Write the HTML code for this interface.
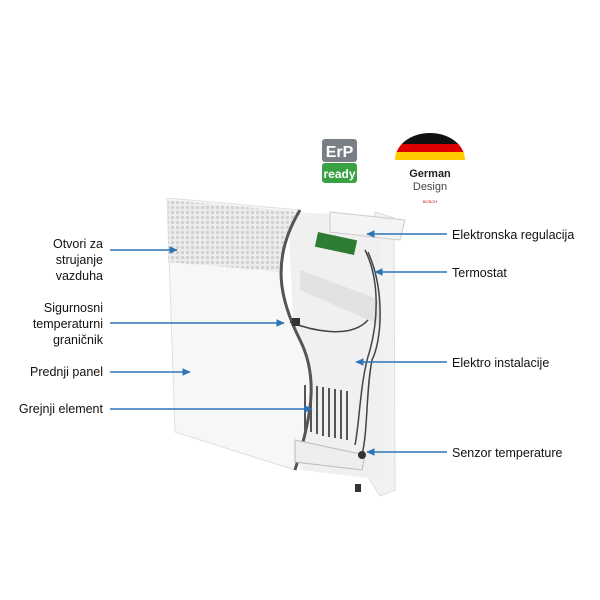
<!DOCTYPE html>
<html><head><meta charset="utf-8"><style>
body{margin:0;background:#fff;}
svg{display:block;font-family:"Liberation Sans",sans-serif;}
</style></head><body>
<svg width="600" height="600" viewBox="0 0 600 600">
<defs>
<pattern id="dots" width="5" height="5" patternUnits="userSpaceOnUse">
<rect width="5" height="5" fill="#ececec"/><circle cx="2.5" cy="2.5" r="1.6" fill="#d0d0d0"/></pattern>
<marker id="ar" markerWidth="6" markerHeight="6" refX="5" refY="3" orient="auto"><path d="M0,0.5 L5.5,3 L0,5.5z" fill="#2e75b6"/></marker>
<clipPath id="dome"><path d="M395,160 A35,27 0 0 1 465,160Z"/></clipPath>
</defs>
<path d="M375,212 L394,218 L395,490 L380,496 L370,480Z" fill="#f2f2f2" stroke="#ddd"/>
<path d="M288,212 L380,216 L385,480 L300,470 Z" fill="#f0f0f0"/>
<path d="M300,270 L380,300 L380,325 L300,290Z" fill="#e2e2e2"/>
<path d="M167,198 L300,210 C270,260 280,300 300,340 C320,380 310,420 295,470 L175,432 Z" fill="#f7f7f7" stroke="#e0e0e0"/>
<path d="M168,200 L300,212 C290,230 282,250 283,272 L168,262Z" fill="url(#dots)"/>
<path d="M300,210 C270,260 280,300 300,340 C320,380 310,420 295,470" fill="none" stroke="#555" stroke-width="3"/>
<g stroke="#555" stroke-width="2">
<path d="M305,385 L305,430 M311,385 L311,432 M317,386 L317,434 M323,387 L323,436 M329,388 L329,437 M335,389 L335,438 M341,390 L341,439 M347,391 L347,440"/>
</g>
<path d="M295,440 L365,455 L362,470 L295,462Z" fill="#eee" stroke="#bbb"/>
<path d="M330,212 L405,220 L400,240 L330,232Z" fill="#f4f4f4" stroke="#ccc"/>
<rect x="318" y="232" width="40" height="15" fill="#2e7d32" transform="rotate(12 318 232)"/>
<g fill="none" stroke="#444" stroke-width="1.5">
<path d="M365,250 C380,280 378,320 370,350 C360,380 360,420 355,445"/>
<path d="M368,252 C385,290 382,340 372,360 C366,390 368,430 362,455"/>
<path d="M290,322 C310,330 350,340 368,320"/>
</g>
<rect x="292" y="318" width="8" height="8" fill="#333"/>
<circle cx="362" cy="455" r="4" fill="#333"/>
<rect x="355" y="484" width="6" height="8" fill="#333"/>
<rect x="322" y="139" width="35" height="23" rx="3" fill="#7a7f85"/>
<text x="339.5" y="157" font-size="16" font-weight="bold" fill="#fff" text-anchor="middle">ErP</text>
<rect x="322" y="163" width="35" height="20" rx="3" fill="#3aa142"/>
<text x="339.5" y="178" font-size="12" font-weight="bold" fill="#fff" text-anchor="middle">ready</text>
<g clip-path="url(#dome)">
<rect x="390" y="130" width="80" height="14" fill="#111"/>
<rect x="390" y="144" width="80" height="8" fill="#dd0000"/>
<rect x="390" y="152" width="80" height="8" fill="#ffcc00"/>
</g>
<text x="430" y="177" font-size="11" font-weight="bold" text-anchor="middle" fill="#222">German</text>
<text x="430" y="190" font-size="11" text-anchor="middle" fill="#444">Design</text>
<text x="430" y="203" font-size="4" text-anchor="middle" fill="#c00">BOSCH</text>
<g stroke="#2e75b6" stroke-width="1.5" marker-end="url(#ar)">
<line x1="110" y1="250" x2="177" y2="250"/>
<line x1="110" y1="323" x2="284" y2="323"/>
<line x1="110" y1="372" x2="190" y2="372"/>
<line x1="110" y1="409" x2="312" y2="409"/>
<line x1="447" y1="234" x2="367" y2="234"/>
<line x1="447" y1="272" x2="375" y2="272"/>
<line x1="447" y1="362" x2="356" y2="362"/>
<line x1="447" y1="452" x2="367" y2="452"/>
</g>
<g font-size="12.5" fill="#111" text-anchor="end">
<text x="103" y="248">Otvori za</text>
<text x="103" y="264">strujanje</text>
<text x="103" y="280">vazduha</text>
<text x="103" y="312">Sigurnosni</text>
<text x="103" y="328">temperaturni</text>
<text x="103" y="344">graničnik</text>
<text x="103" y="376">Prednji panel</text>
<text x="103" y="413">Grejnji element</text>
</g>
<g font-size="12.5" fill="#111">
<text x="452" y="239">Elektronska regulacija</text>
<text x="452" y="277">Termostat</text>
<text x="452" y="367">Elektro instalacije</text>
<text x="452" y="457">Senzor temperature</text>
</g>
</svg>
</body></html>
